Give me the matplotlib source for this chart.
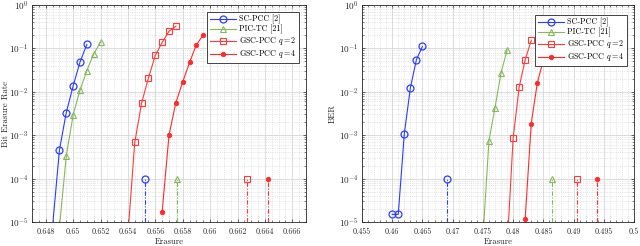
import math
import matplotlib
matplotlib.use("Agg")
import matplotlib.pyplot as plt
from matplotlib.ticker import FuncFormatter, LogLocator, NullFormatter, MultipleLocator

plt.rcParams['font.family'] = ['cmr10', 'DejaVu Serif']
plt.rcParams['mathtext.fontset'] = 'cm'
plt.rcParams['axes.formatter.use_mathtext'] = True
plt.rcParams['axes.unicode_minus'] = False

labels = ["SC-PCC [2]", "PIC-TC [21]", r"GSC-PCC $q=2$", r"GSC-PCC $q=4$"]

# ---- left panel: Bit Erasure Rate ----
L_sc_x = [0.6485, 0.649, 0.6495, 0.650, 0.6505, 0.651]
L_sc_y = [7.8e-6, 4.5e-4, 3.3e-3, 1.36e-2, 4.8e-2, 0.123]
L_pic_x = [0.649, 0.6495, 0.650, 0.6505, 0.651, 0.6515, 0.652]
L_pic_y = [7.4e-6, 3.3e-4, 2.9e-3, 1.08e-2, 3.06e-2, 7.4e-2, 0.139]
L_q2_x = [0.654, 0.6545, 0.655, 0.6555, 0.656, 0.6565, 0.657, 0.6575]
L_q2_y = [5e-6, 6.8e-4, 5.5e-3, 2.1e-2, 6.9e-2, 0.137, 0.249, 0.324]
L_q4_x = [0.6565, 0.657, 0.6575, 0.658, 0.6585, 0.659, 0.6595]
L_q4_y = [1.7e-5, 1.0e-3, 5.6e-3, 1.68e-2, 4.75e-2, 0.121, 0.205]
L_thr = [0.65527, 0.65757, 0.66266, 0.66419]

# ---- right panel: BER ----
R_sc_x = [0.460, 0.461, 0.462, 0.463, 0.464, 0.465]
R_sc_y = [1.5e-5, 1.5e-5, 1.08e-3, 1.22e-2, 5.5e-2, 0.111]
R_pic_x = [0.475, 0.476, 0.477, 0.478, 0.479]
R_pic_y = [4.2e-6, 7.4e-4, 4.3e-3, 2.7e-2, 9.1e-2]
R_q2_x = [0.479, 0.480, 0.481, 0.482, 0.483]
R_q2_y = [2.5e-6, 8.4e-4, 1.27e-2, 5.5e-2, 0.154]
R_q4_x = [0.482, 0.483, 0.484, 0.485, 0.486]
R_q4_y = [1.2e-5, 1.86e-3, 1.6e-2, 5.3e-2, 0.13]
R_thr = [0.469, 0.4865, 0.4906, 0.4939]

thr_y = 1e-4
ylim = (1e-5, 1.0)

colors = ['#2a3cff', '#86b85a', '#ff3a3a', '#ff2a2a']
styles = [dict(marker='o', ms=5.0, mfc='none', mew=0.9),
          dict(marker='^', ms=5.0, mfc='none', mew=0.8),
          dict(marker='s', ms=3.8, mfc='none', mew=0.8),
          dict(marker='o', ms=3.2, mfc='#ff2a2a', mew=0.6)]

fig = plt.figure(figsize=(6.4, 2.46), dpi=100)
axL = fig.add_axes([32/640, 24/246, 274/640, 217/246])
axR = fig.add_axes([362/640, 24/246, 272/640, 217/246])


def draw(ax, series, thr, xlim, major, nminor, ylabel, ylab_x, leg_anchor):
    for (xs, ys), c, st, lab in zip(series, colors, styles, labels):
        ax.plot(xs, ys, color=c, lw=0.8, label=lab, **st)
    for xv, c, st in zip(thr, colors, styles):
        ax.plot([xv, xv], [ylim[0], thr_y], color=c, lw=0.8,
                dashes=(4, 1.5, 1, 1.5), markevery=[1], **st)
    ax.set_yscale('log')
    ax.set_xlim(*xlim)
    ax.set_ylim(*ylim)
    ax.xaxis.set_major_locator(MultipleLocator(major))
    ax.xaxis.set_minor_locator(MultipleLocator(major / nminor))
    ax.xaxis.set_major_formatter(FuncFormatter(lambda v, p: ('%.4f' % v).rstrip('0').rstrip('.')))
    ax.yaxis.set_major_locator(LogLocator(base=10, numticks=10))
    ax.yaxis.set_minor_locator(LogLocator(base=10, subs=range(2, 10), numticks=20))
    ax.yaxis.set_minor_formatter(NullFormatter())
    ax.yaxis.set_major_formatter(FuncFormatter(lambda v, p: r'$10^{%d}$' % round(math.log10(v))))
    ax.grid(True, which='major', color='#d6d6d6', lw=0.6)
    ax.grid(True, which='minor', color='#d0d0d0', lw=0.5, ls=':')
    ax.set_axisbelow(True)
    ax.tick_params(which='both', direction='in', top=True, right=True,
                   colors='#262626')
    ax.tick_params(axis='x', labelsize=5.8, pad=3.9)
    ax.tick_params(axis='y', labelsize=6.6, pad=2.8)
    ax.tick_params(which='major', length=2.5, width=0.5)
    ax.tick_params(which='minor', length=1.3, width=0.4)
    for s in ax.spines.values():
        s.set_color('#262626')
        s.set_linewidth(0.6)
    ax.set_xlabel('Erasure', fontsize=6.2, color='#262626')
    ax.set_ylabel(ylabel, fontsize=6.4, color='#262626')
    ax.xaxis.set_label_coords(0.5, -0.073)
    ax.yaxis.set_label_coords(ylab_x, 0.5)
    leg = ax.legend(loc='upper right', bbox_to_anchor=leg_anchor, fontsize=5.8,
                    handlelength=3.3, handletextpad=0.3, borderpad=0.35,
                    labelspacing=0.12, fancybox=False, framealpha=1,
                    edgecolor='#262626', borderaxespad=0)
    leg.get_frame().set_linewidth(0.6)


draw(axL, [(L_sc_x, L_sc_y), (L_pic_x, L_pic_y), (L_q2_x, L_q2_y), (L_q4_x, L_q4_y)],
     L_thr, (0.647, 0.667), 0.002, 4, 'Bit Erasure Rate', -0.08, (0.974, 0.968))
draw(axR, [(R_sc_x, R_sc_y), (R_pic_x, R_pic_y), (R_q2_x, R_q2_y), (R_q4_x, R_q4_y)],
     R_thr, (0.455, 0.5), 0.005, 5, 'BER', -0.095, (0.974, 0.954))

fig.savefig('out.png', dpi=100)
